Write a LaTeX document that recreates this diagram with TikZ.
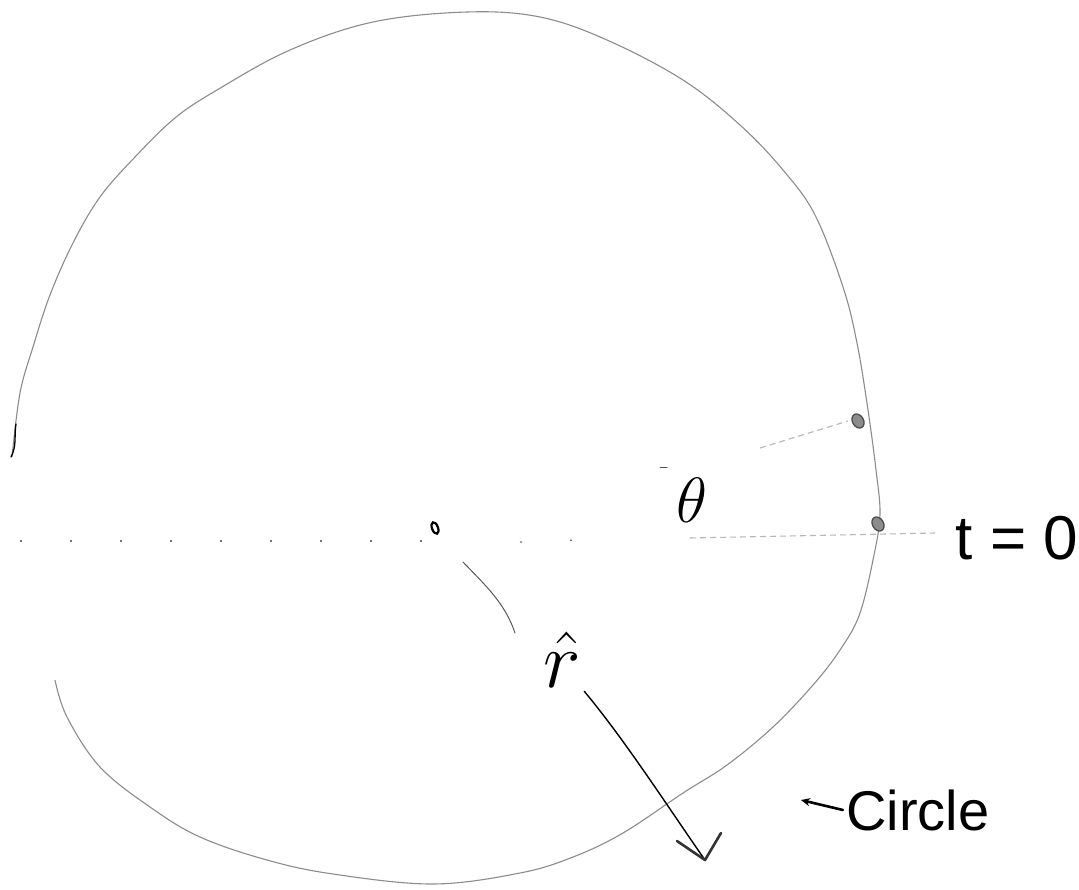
\RequirePackage{fix-cm}
\documentclass[tikz,border=0pt]{standalone}
\usepackage{fontspec}
\newfontfamily\hand{Liberation Sans}
\usetikzlibrary{shapes.geometric,arrows.meta}
\begin{document}
\begin{tikzpicture}[x=1pt,y=-1pt,
  rim/.style={draw=black!45, line width=1.1pt},
  faint/.style={draw=black!28, line width=1.1pt, dash pattern=on 6pt off 4pt},
  sparse/.style={draw=black!55, line width=1.3pt, dash pattern=on 2pt off 48pt},
  ink/.style={draw=black, line width=1.6pt, line cap=round, line join=round},
  thin/.style={draw=black!65, line width=1pt, line cap=round},
  dotmark/.style={ellipse, draw=black!70, fill=black!45, line width=1.3pt, minimum width=11pt, minimum height=15pt, inner sep=0pt},
]
\useasboundingbox (0,0) rectangle (1079,889);
\fill[white] (0,0) rectangle (1079,889);

% the hand-drawn circle
\draw[rim] plot[smooth, tension=0.6] coordinates {
 (12,457) (20,393) (33,347) (50,295) (73,243) (100,197) (135,157) (175,118)
 (217,90) (290,50) (373,22) (467,12) (540,17) (607,40) (683,80) (740,125)
 (783,170) (815,215) (843,287) (857,343) (868,410) (876,470) (880,513)
 (875,550) (860,613) (840,650) (813,685) (773,727) (727,765) (683,793)
 (623,833) (573,857) (520,873) (433,884) (333,874) (267,860) (200,837)
 (150,807) (100,767) (67,717) (55,680)};
\draw[ink, line width=1.3pt] (16,424) .. controls (14,435) and (17,446) .. (11,457);

% dashed reference lines
\draw[sparse] (20,541) -- (440,541);
\draw[sparse] (520,542) -- (580,540);
\draw[faint] (690,538) -- (935,533);
\draw[faint] (760,448) -- (848,421);
\draw[thin] (660,467) -- (667,467);

% points and labels
\node[dotmark, rotate=30] (p1) at (858,421) {};
\node[dotmark, rotate=30] (p0) at (878,524) {};
\node[ellipse, draw, line width=2.2pt, minimum width=6pt, minimum height=12pt, inner sep=0pt, rotate=20] (ctr) at (435,528) {};
\node (th) at (692,500) {\fontsize{64}{64}\selectfont$\theta$};
\node (t0) at (1017,538) {\hand\fontsize{62}{62}\selectfont t = 0};
\node (rh) at (562,660) {\fontsize{80}{80}\selectfont$\hat{r}$};
\node (circ) at (918,810) {\hand\fontsize{56}{56}\selectfont Circle};

% leader from centre towards r-hat
\coordinate (l0) at (463,562);
\coordinate (l1) at (515,633);
\draw[thin] (l0) .. controls (485,585) and (505,603) .. (l1);

% radius arrow
\coordinate (tip) at (705,860);
\draw[ink, line width=1.4pt] (rh.south east) .. controls (625,740) and (670,810) .. (tip);
\draw[ink, line width=2.6pt, draw=black!80] (677,841) -- (tip) -- (721,833);

% pointer before "Circle"
\coordinate (cp) at (801,800);
\draw[ink, line width=2.6pt, -{Stealth[length=9pt,width=8pt]}] (circ.west) -- (cp);
\end{tikzpicture}
\end{document}
